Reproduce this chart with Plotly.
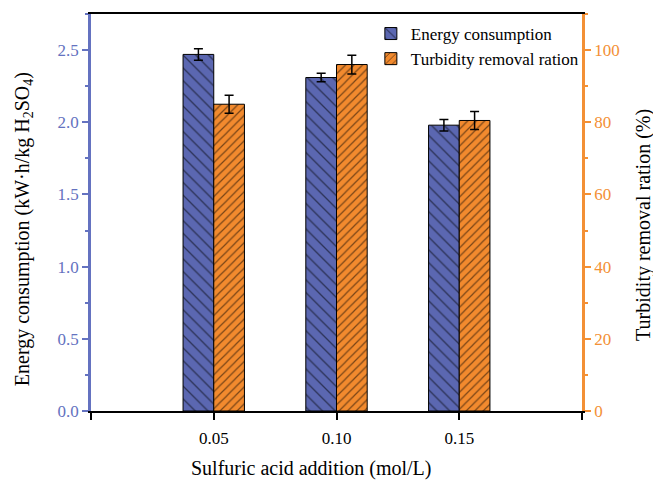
import plotly.graph_objects as go

# Sulfuric acid dosage (mol/L)
acid = [0.05, 0.10, 0.15]
acid_labels = ["0.05", "0.10", "0.15"]

# Energy consumption (kW·h/kg H2SO4) and its error
energy = [2.47, 2.31, 1.98]
energy_err = [0.04, 0.03, 0.04]

# Turbidity removal ratio (%) and its error
turbidity = [85.0, 96.0, 80.5]
turbidity_err = [2.5, 2.6, 2.5]

BLUE = "#5b67b1"
ORANGE = "#f28a2e"
BLUE_AXIS = "#6472c0"
ORANGE_AXIS = "#f39035"
SERIF = "Liberation Serif, Times New Roman, serif"
BAR_W = 0.0125

fig = go.Figure()

fig.add_trace(go.Bar(
    x=acid, y=energy, name="Energy consumption",
    width=BAR_W, offset=-BAR_W,
    marker=dict(color=BLUE, line=dict(color="black", width=1),
                pattern=dict(shape="\\", fgcolor="black", bgcolor=BLUE,
                             size=9, solidity=0.15, fillmode="overlay")),
    error_y=dict(type="data", array=energy_err, color="black",
                 thickness=1.5, width=4.5),
    yaxis="y",
))

fig.add_trace(go.Bar(
    x=acid, y=turbidity, name="Turbidity removal ration",
    width=BAR_W, offset=0,
    marker=dict(color=ORANGE, line=dict(color="black", width=1),
                pattern=dict(shape="/", fgcolor="black", bgcolor=ORANGE,
                             size=6, solidity=0.2, fillmode="overlay")),
    error_y=dict(type="data", array=turbidity_err, color="black",
                 thickness=1.5, width=4.5),
    yaxis="y2",
))

# Axis titles placed as paper-anchored annotations
title_font = dict(family=SERIF, size=20, color="black")
annotations = [
    dict(text="Sulfuric acid addition (mol/L)", x=0.45, y=-0.144,
         xref="paper", yref="paper", showarrow=False, font=title_font,
         xanchor="center", yanchor="middle"),
    dict(text="Energy consumption (kW·h/kg H<sub>2</sub>SO<sub>4</sub>)",
         x=-0.1385, y=0.458, xref="paper", yref="paper", showarrow=False,
         font=title_font, textangle=-90, xanchor="center", yanchor="middle"),
    dict(text="Turbidity removal ration (%)", x=1.124, y=0.4685,
         xref="paper", yref="paper", showarrow=False, font=title_font,
         textangle=-90, xanchor="center", yanchor="middle"),
]

fig.update_layout(
    width=653, height=480,
    margin=dict(l=91, r=71, t=14, b=69, autoexpand=False),
    paper_bgcolor="white", plot_bgcolor="white",
    font=dict(family=SERIF, size=17, color="black"),
    showlegend=True,
    legend=dict(x=0.57, y=0.995, xanchor="left", yanchor="top",
                bgcolor="rgba(0,0,0,0)", font=dict(family=SERIF, size=17),
                tracegroupgap=0, itemwidth=30),
    annotations=annotations,
    xaxis=dict(
        range=[0, 0.2], automargin=False,
        tickmode="array",
        tickvals=[0] + acid + [0.2],
        ticktext=[""] + acid_labels + [""],
        ticks="outside", ticklen=7, tickwidth=2, tickcolor="black",
        ticklabelstandoff=4,
        showline=True, linecolor="black", linewidth=2, mirror=True,
        showgrid=False, zeroline=False,
        tickfont=dict(family=SERIF, size=17),
    ),
    yaxis=dict(
        range=[0, 2.75], automargin=False,
        tickmode="linear", tick0=0, dtick=0.5, tickformat=".1f",
        ticks="outside", ticklen=6, tickwidth=2, tickcolor=BLUE_AXIS,
        minor=dict(dtick=0.25, ticks="outside", ticklen=3, tickwidth=2,
                   tickcolor=BLUE_AXIS),
        showline=True, linecolor=BLUE_AXIS, linewidth=2.5,
        showgrid=False, zeroline=False,
        tickfont=dict(family=SERIF, size=17, color=BLUE_AXIS),
    ),
    yaxis2=dict(
        range=[0, 110], overlaying="y", side="right", automargin=False,
        tickmode="linear", tick0=0, dtick=20,
        ticks="outside", ticklen=6, tickwidth=2, tickcolor=ORANGE_AXIS,
        minor=dict(dtick=10, ticks="outside", ticklen=3, tickwidth=2,
                   tickcolor=ORANGE_AXIS),
        showline=True, linecolor=ORANGE_AXIS, linewidth=2.5,
        showgrid=False, zeroline=False,
        tickfont=dict(family=SERIF, size=17, color=ORANGE_AXIS),
    ),
)

fig.write_html("out.html")
